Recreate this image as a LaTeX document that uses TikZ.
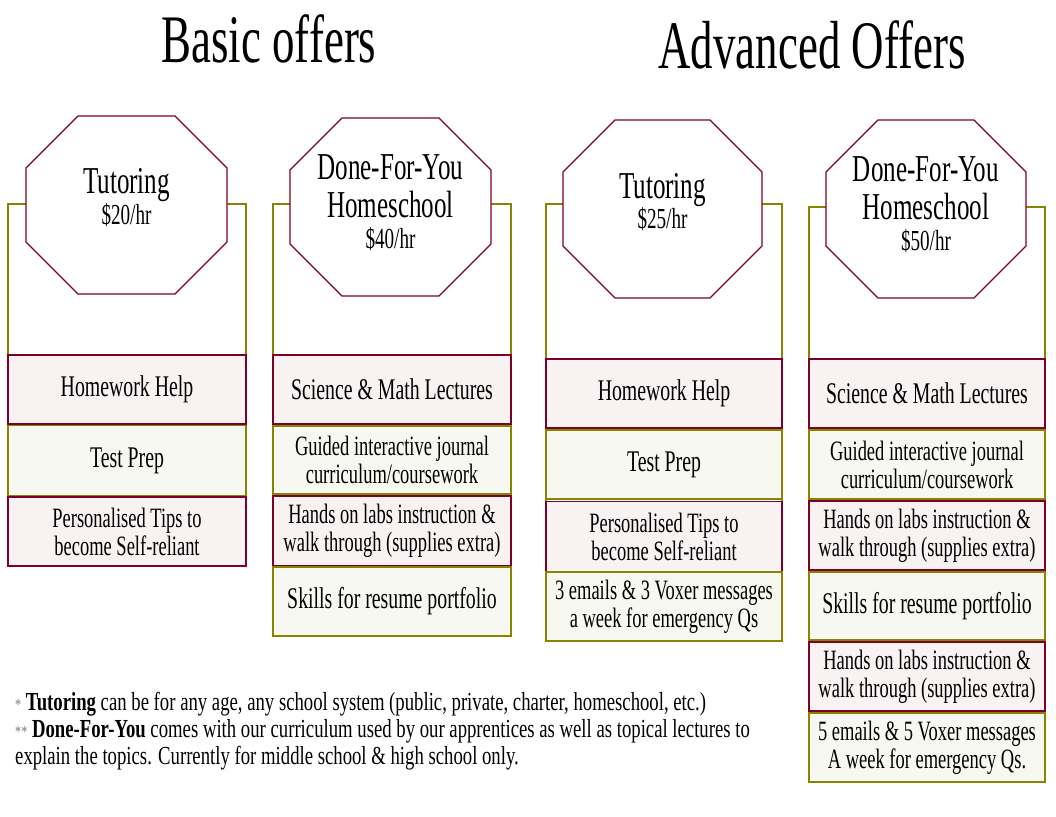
\documentclass[tikz,border=0pt]{standalone}
\usepackage{fontspec}
\setmainfont{Liberation Serif}
\newfontfamily\cond[FakeStretch=0.66]{Liberation Serif}
\newfontfamily\footf[FakeStretch=0.72]{Liberation Serif}
\definecolor{mymaroon}{RGB}{125,0,40}
\definecolor{myolive}{RGB}{135,133,0}
\definecolor{pinkfill}{RGB}{248,242,242}
\definecolor{greenfill}{RGB}{248,248,242}
\newcommand\octa[4]{%
  \draw[octline] ({#1+52},#2) -- ({#1+#3-52},#2) -- ({#1+#3},{#2+52}) -- ({#1+#3},{#2+#4-52})
   -- ({#1+#3-52},{#2+#4}) -- ({#1+52},{#2+#4}) -- (#1,{#2+#4-52}) -- (#1,{#2+52}) -- cycle;}
\begin{document}
\begin{tikzpicture}[x=1pt,y=-1pt,
  frameline/.style={draw=myolive, line width=1.1pt},
  octline/.style={draw=mymaroon, fill=white, line width=1.1pt},
  basebox/.style={line width=1.1pt, inner sep=0pt, outer sep=0pt, align=center, anchor=north west, text=black},
  pinkbox/.style={basebox, draw=mymaroon, fill=pinkfill},
  greenbox/.style={basebox, draw=myolive, fill=greenfill},
  one/.style={font=\cond\fontsize{30}{28}\selectfont},
  two/.style={font=\cond\fontsize{28}{28}\selectfont},
  title/.style={font=\cond\fontsize{68}{68}\selectfont, anchor=base},
  head/.style={font=\cond\fontsize{38}{38}\selectfont, anchor=base},
  price/.style={font=\cond\fontsize{29}{29}\selectfont, anchor=base},
  foot/.style={font=\footf\fontsize{26}{26}\selectfont, anchor=base west, inner sep=0pt},
]
\useasboundingbox[fill=white] (0,0) rectangle (1056,816);

% titles
\node[title] (basic) at (269,63) {Basic offers};
\node[title] (adv) at (812,68) {Advanced Offers};

% frames
\draw[frameline] (8,204) rectangle (246,566);
\draw[frameline] (273,204) rectangle (511,636);
\draw[frameline] (546,204) rectangle (782,641);
\draw[frameline] (809,207) rectangle (1045,782);

% octagons
\octa{26}{116}{201}{178}
\octa{290}{118}{201}{178}
\octa{563}{120}{199}{178}
\octa{826}{120}{200}{178}

% octagon texts
\node[head] (h1) at (126.5,193) {Tutoring};
\node[price] (p1) at (126.5,224) {\$20/hr};
\node[head] (h2a) at (390.5,179) {Done-For-You};
\node[head] (h2b) at (390.5,217) {Homeschool};
\node[price] (p2) at (390.5,248) {\$40/hr};
\node[head] (h3) at (662.5,198) {Tutoring};
\node[price] (p3) at (662.5,228) {\$25/hr};
\node[head] (h4a) at (926,181) {Done-For-You};
\node[head] (h4b) at (926,219) {Homeschool};
\node[price] (p4) at (926,250) {\$50/hr};

% column 1
\node[pinkbox, one, minimum width=238pt, minimum height=69pt] (c1a) at (8,355) {Homework Help};
\node[greenbox, one, minimum width=238pt, minimum height=70pt] (c1b) at (8,425.5) {Test Prep};
\node[pinkbox, two, minimum width=238pt, minimum height=69pt] (c1c) at (8,497) {Personalised Tips to\\become Self-reliant};

% column 2
\node[pinkbox, one, minimum width=238pt, minimum height=69pt] (c2a) at (273,355) {Science \& Math Lectures};
\node[greenbox, two, minimum width=238pt, minimum height=68pt] (c2b) at (273,426) {Guided interactive journal\\curriculum/coursework};
\node[pinkbox, two, minimum width=238pt, minimum height=70pt] (c2c) at (273,496) {Hands on labs instruction \&\\walk through (supplies extra)};
\node[greenbox, one, minimum width=238pt, minimum height=69pt] (c2d) at (273,567) {Skills for resume portfolio};

% column 3
\node[pinkbox, one, minimum width=236pt, minimum height=69pt] (c3a) at (546,359) {Homework Help};
\node[greenbox, one, minimum width=236pt, minimum height=69pt] (c3b) at (546,430) {Test Prep};
\node[pinkbox, two, minimum width=236pt, minimum height=70pt] (c3c) at (546,501.5) {Personalised Tips to\\become Self-reliant};
\node[greenbox, two, minimum width=236pt, minimum height=69pt] (c3d) at (546,572) {3 emails \& 3 Voxer messages\\a week for emergency Qs};

% column 4
\node[pinkbox, one, minimum width=236pt, minimum height=69pt] (c4a) at (809,359) {Science \& Math Lectures};
\node[greenbox, two, minimum width=236pt, minimum height=69pt] (c4b) at (809,430) {Guided interactive journal\\curriculum/coursework};
\node[pinkbox, two, minimum width=236pt, minimum height=69pt] (c4c) at (809,501) {Hands on labs instruction \&\\walk through (supplies extra)};
\node[greenbox, one, minimum width=236pt, minimum height=68pt] (c4d) at (809,572) {Skills for resume portfolio};
\node[pinkbox, two, minimum width=236pt, minimum height=69pt] (c4e) at (809,642) {Hands on labs instruction \&\\walk through (supplies extra)};
\node[greenbox, two, minimum width=236pt, minimum height=69pt] (c4f) at (809,713) {5 emails \& 5 Voxer messages\\A week for emergency Qs.};

% footnotes
\node[foot] (f1) at (15,710) {{\color{gray}\fontsize{17}{17}\selectfont *} \textbf{Tutoring} can be for any age, any school system (public, private, charter, homeschool, etc.)};
\node[foot] (f2) at (15,737) {{\color{gray}\fontsize{17}{17}\selectfont **} \textbf{Done-For-You} comes with our curriculum used by our apprentices as well as topical lectures to};
\node[foot] (f3) at (15,764) {explain the topics. Currently for middle school \& high school only.};
\end{tikzpicture}
\end{document}
